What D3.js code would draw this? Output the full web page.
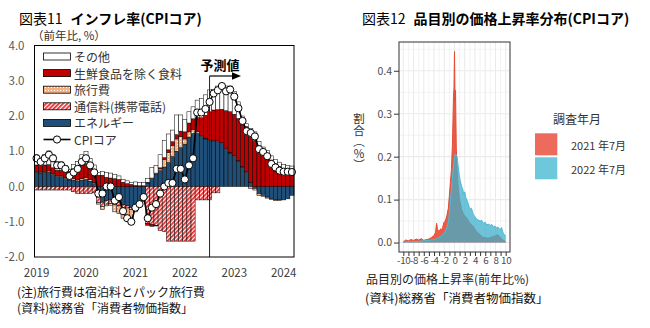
<!DOCTYPE html>
<html>
<head>
<meta charset="utf-8">
<script src="https://cdn.jsdelivr.net/npm/d3@7"></script>
<style>
  body { margin: 0; background: #fff; }
  svg { display: block; font-family: "Noto Sans CJK JP", "Noto Sans", sans-serif; }
</style>
</head>
<body>
<svg id="chart" width="650" height="328"></svg>
<script>
// ---------- 図表11: contributions to CPI core (y/y, %pt), Jan 2019 - Mar 2024 ----------
const yearTicks = ["2019", "2020", "2021", "2022", "2023", "2024"];
const yTicksLeft = [4, 3, 2, 1, 0, -1, -2];
const forecastStart = "2022-07";

const energy = [
  0.40, 0.38, 0.40, 0.40, 0.34, 0.28, 0.28, 0.22, 0.18, 0.18, 0.16, 0.18, 0.20, 0.15, 0.08,
  -0.30, -0.45, -0.40, -0.38, -0.42, -0.45, -0.52, -0.55, -0.60, -0.55, -0.45, -0.30,
  0.10, 0.22, 0.35, 0.45, 0.55, 0.68, 0.85, 1.00, 1.10, 1.20, 1.40, 1.50, 1.50, 1.42, 1.35, 1.30,
  1.28, 1.27, 1.22, 1.05, 0.95, 0.85, 0.72, 0.55, 0.40, 0.12, -0.05, -0.20, -0.25, -0.30, -0.35, -0.38, -0.38, -0.38, -0.35, -0.25
];
const comm = [
  -0.10, -0.10, -0.10, -0.10, -0.10, -0.10, -0.10, -0.10, -0.10,
  -0.15, -0.20, -0.20, -0.20, -0.20, -0.18,
  -0.15, -0.12, -0.10, -0.10, -0.10, -0.10, -0.08, -0.06, -0.05, -0.05, -0.05, -0.05,
  -1.05, -1.08, -1.10, -1.25, -1.28, -1.55, -1.55, -1.55, -1.55, -1.55, -1.55, -1.55,
  -0.38, -0.38, -0.38, -0.38, -0.18, -0.18,
  0, 0, 0, 0, 0, 0, 0, 0, 0, 0, 0, 0, 0, 0, 0, 0, 0, 0
];
const travel = [
  0.03, 0.03, 0.03, 0.04, 0.03, 0.03, 0.03, 0.03, 0.03, 0.04, 0.04, 0.04, 0.05, 0.04, 0.03,
  -0.05, -0.08, -0.05, -0.05, -0.20, -0.22, -0.30, -0.32, -0.32, -0.12, -0.10, -0.08,
  0.02, 0.02, 0.03, 0.05, 0.22, 0.28, 0.32, 0.35, 0.32, 0.15, 0.15, 0.12,
  0.05, 0.03, 0.02, 0.02, 0.02, 0.02, 0.02, 0.03, 0.02,
  0.02, 0.02, 0.02, 0.02, -0.05, -0.05, -0.06, -0.03, -0.03, -0.02, -0.02, -0.02, 0, 0, 0
];
const food = [
  0.18, 0.18, 0.18, 0.18, 0.16, 0.15, 0.15, 0.18, 0.22, 0.28, 0.33, 0.38, 0.40, 0.38, 0.35,
  0.32, 0.32, 0.26, 0.24, 0.22, 0.20, 0.12, 0.08, 0.06, 0.03, 0.02, 0.02,
  -0.05, -0.05, -0.02, 0.03, 0.05, 0.08, 0.10, 0.12, 0.15,
  0.20, 0.25, 0.30, 0.40, 0.50, 0.65, 0.80,
  0.87, 0.89, 0.95, 1.07, 1.15, 1.18, 1.19, 1.25, 1.28, 1.30, 1.30, 1.15, 1.00, 0.88, 0.75, 0.65, 0.57, 0.50, 0.47, 0.45
];
const other = [
  0.29, 0.21, 0.29, 0.39, 0.37, 0.24, 0.24, 0.17, 0.06, 0.12, 0.18, 0.30, 0.35, 0.22, 0.15,
  0.08, 0.10, 0.14, 0.14, 0.12, 0.10, 0.08, 0.08, 0.06, 0.10, 0.10, 0.10,
  0.10, 0.30, 0.22, 0.37, 0.48, 0.45, 0.33, 0.56, 0.46, 0.35, 0.32, 0.34, 0.50, 0.55, 0.58, 0.62,
  0.58, 0.67, 0.73, 0.70, 0.73, 0.65, 0.47, 0.18, 0.08, 0.23, 0.25, 0.12, 0.12, 0.14, 0.12, 0.12, 0.12, 0.12, 0.12, 0.13
];
const cpiCore = [
  0.8, 0.7, 0.8, 0.9, 0.8, 0.6, 0.6, 0.5, 0.3, 0.4, 0.5, 0.7,
  0.8, 0.6, 0.4, -0.2, -0.2, 0.0, 0.0, -0.4, -0.3, -0.7, -0.9, -1.0,
  -0.6, -0.5, -0.3, -0.9, -0.6, -0.5, -0.2, 0.0, 0.1, 0.1, 0.5, 0.5,
  0.2, 0.6, 0.8, 2.1, 2.1, 2.2, 2.4, 2.64, 2.73, 2.85, 2.7, 2.75,
  2.55, 2.22, 1.86, 1.57, 1.52, 1.42, 1.06, 0.98, 0.86, 0.64, 0.54, 0.45,
  0.42, 0.42, 0.41
];

const seriesKeys = ["energy", "comm", "travel", "food", "other"];
const seriesNames = {
  other: "その他", food: "生鮮食品を除く食料", travel: "旅行費",
  comm: "通信料(携帯電話)", energy: "エネルギー"
};
const legendOrder = ["other", "food", "travel", "comm", "energy"];
const lineName = "CPIコア";

// ---------- 図表12: distribution of item-level price changes ----------
const rate2021 = [-10, -9.5, -9, -8.5, -8, -7.5, -7, -6.5, -6, -5.5, -5, -4.5, -4, -3.7, -3.5, -3.3,
  -3, -2.7, -2.4, -2.1, -1.8, -1.5, -1.2, -1.0, -0.8, -0.6, -0.4, -0.2, -0.1, 0, 0.1, 0.2, 0.35,
  0.5, 0.75, 1.0, 1.4, 1.8, 2.4, 3.0, 3.5, 4.3, 5.0, 5.6, 6.2, 6.6, 7.0, 7.6, 8.0, 8.4, 8.8, 9.2, 9.6, 10];
const share2021 = [0.002, 0.006, 0.004, 0.007, 0.005, 0.008, 0.006, 0.009, 0.005, 0.007, 0.008, 0.012, 0.016,
  0.024, 0.045, 0.03, 0.026, 0.032, 0.03, 0.046, 0.05, 0.062, 0.08, 0.11, 0.14, 0.17, 0.23, 0.34, 0.36,
  0.445, 0.33, 0.355, 0.22, 0.17, 0.123, 0.1, 0.077, 0.065, 0.057, 0.045, 0.04, 0.026, 0.018, 0.012,
  0.011, 0.01, 0.012, 0.014, 0.016, 0.018, 0.014, 0.008, 0.005, 0.002];
const rate2022 = [-10, -9, -8, -7, -6, -5, -4, -3.5, -3, -2.5, -2.2, -1.8, -1.4, -1.1, -0.9, -0.7, -0.5,
  -0.3, -0.1, 0.1, 0.3, 0.5, 0.7, 0.9, 1.1, 1.4, 1.6, 1.8, 2.0, 2.2, 2.4, 2.7, 3.0, 3.3, 3.7, 4.0, 4.3,
  4.6, 5.0, 5.3, 5.6, 6.0, 6.3, 6.6, 7.0, 7.3, 7.6, 8.0, 8.2, 8.5, 8.9, 9.2, 9.5, 9.8, 10];
const share2022 = [0.001, 0.002, 0.002, 0.003, 0.004, 0.005, 0.007, 0.009, 0.012, 0.016, 0.019, 0.026,
  0.037, 0.055, 0.084, 0.11, 0.139, 0.165, 0.19, 0.205, 0.205, 0.2, 0.18, 0.16, 0.145, 0.13, 0.125,
  0.112, 0.118, 0.105, 0.1, 0.09, 0.077, 0.08, 0.065, 0.06, 0.055, 0.053, 0.05, 0.052, 0.045, 0.047,
  0.041, 0.043, 0.04, 0.042, 0.037, 0.038, 0.034, 0.036, 0.03, 0.035, 0.022, 0.018, 0.014];
const surveyLabels = ["2021 年7月", "2022 年7月"];
const xTicksRight = [-10, -8, -6, -4, -2, 0, 2, 4, 6, 8, 10];
const yTicksRight = [0, 0.1, 0.2, 0.3, 0.4];

const svg = d3.select("#chart");
const defs = svg.append("defs");

// dotted fill for travel, diagonal hatch for mobile charges
const dots = defs.append("pattern").attr("id", "dots")
  .attr("width", 3).attr("height", 3).attr("patternUnits", "userSpaceOnUse");
dots.append("rect").attr("width", 3).attr("height", 3).attr("fill", "#F4B183");
dots.append("rect").attr("width", 1).attr("height", 1).attr("fill", "#fff");
const hatch = defs.append("pattern").attr("id", "hatch")
  .attr("width", 3).attr("height", 3).attr("patternUnits", "userSpaceOnUse")
  .attr("patternTransform", "rotate(45)");
hatch.append("rect").attr("width", 3).attr("height", 3).attr("fill", "#fff");
hatch.append("rect").attr("width", 1.8).attr("height", 3).attr("fill", "#E83030");

const fills = {
  energy: "#1F4E79", comm: "url(#hatch)", travel: "url(#dots)", food: "#C00000", other: "#FFFFFF"
};
const fmtTick = d => d.toFixed(1);

// ===== left chart =====
const L = { left: 34.5, right: 294, top: 45.5, bottom: 257 };
const months = d3.timeMonth.range(new Date(2019, 0, 1), new Date(2024, 3, 1)).map(d3.timeFormat("%Y-%m"));
const x = d3.scaleBand().domain(months).range([L.left, L.right]).padding(0);
const y = d3.scaleLinear().domain([-2, 4]).range([L.bottom, L.top]);

svg.append("text").attr("x", 19).attr("y", 23.5).attr("font-size", 14).attr("fill", "#000")
  .call(t => {
    t.append("tspan").text("図表11");
    t.append("tspan").attr("dx", 8).attr("font-weight", "bold").text("インフレ率(CPIコア)");
  });
svg.append("text").attr("x", 32).attr("y", 40).attr("font-size", 11.5).attr("fill", "#333")
  .text("（前年比, %）");

const rows = months.map((m, i) => ({
  month: m, energy: energy[i], comm: comm[i], travel: travel[i], food: food[i], other: other[i]
}));
const stacked = d3.stack().keys(seriesKeys).offset(d3.stackOffsetDiverging)(rows);

const gBars = svg.append("g");
stacked.forEach(s => {
  gBars.append("g").attr("fill", fills[s.key])
    .selectAll("rect").data(s).join("rect")
    .attr("x", d => x(d.data.month))
    .attr("width", x.bandwidth())
    .attr("y", d => y(Math.max(d[0], d[1])))
    .attr("height", d => Math.abs(y(d[0]) - y(d[1])))
    .attr("stroke", "#000").attr("stroke-width", 0.5);
});

// forecast marker
const fx = x(forecastStart) + x.bandwidth() / 2;
svg.append("line").attr("x1", fx).attr("x2", fx).attr("y1", 76).attr("y2", L.bottom)
  .attr("stroke", "#222").attr("stroke-width", 1);
svg.append("line").attr("x1", fx).attr("x2", 233).attr("y1", 76).attr("y2", 76)
  .attr("stroke", "#000").attr("stroke-width", 1.2);
svg.append("path").attr("d", "M232,72.2L241,76L232,79.8Z").attr("fill", "#000");
svg.append("text").attr("x", 220).attr("y", 70).attr("text-anchor", "middle")
  .attr("font-size", 13).attr("font-weight", "bold").attr("fill", "#000").text("予測値");

// CPI core line
const lineGen = d3.line().x((d, i) => x(months[i]) + x.bandwidth() / 2).y(d => y(d));
svg.append("path").datum(cpiCore).attr("d", lineGen)
  .attr("fill", "none").attr("stroke", "#000").attr("stroke-width", 1.6);
svg.append("g").selectAll("circle").data(cpiCore).join("circle")
  .attr("cx", (d, i) => x(months[i]) + x.bandwidth() / 2)
  .attr("cy", d => y(d)).attr("r", 3.6)
  .attr("fill", "#fff").attr("stroke", "#000").attr("stroke-width", 1);

// frame
svg.append("rect").attr("x", L.left).attr("y", L.top)
  .attr("width", L.right - L.left).attr("height", L.bottom - L.top)
  .attr("fill", "none").attr("stroke", "#000").attr("stroke-width", 1);

// axes
const yAxisL = svg.append("g").attr("transform", `translate(${L.left},0)`)
  .call(d3.axisLeft(y).tickValues(yTicksLeft).tickFormat(fmtTick).tickSize(0).tickPadding(10));
yAxisL.select(".domain").remove();
yAxisL.selectAll("text").attr("font-size", 11.5).attr("fill", "#595959")
  .attr("font-family", "'Noto Sans CJK JP', sans-serif");

const xAxisL = svg.append("g").attr("transform", `translate(0,${L.bottom})`)
  .call(d3.axisBottom(x).tickValues(yearTicks.map(yr => yr + "-01"))
    .tickFormat(d => d.slice(0, 4)).tickSize(0).tickPadding(12));
xAxisL.select(".domain").remove();
xAxisL.selectAll("text").attr("font-size", 11.5).attr("fill", "#404040")
  .attr("font-family", "'Noto Sans CJK JP', sans-serif");

// legend
const legend = svg.append("g");
const legY0 = 56.5, legStep = 16.6;
legendOrder.forEach((k, i) => {
  const cy = legY0 + i * legStep;
  legend.append("rect").attr("x", 43.5).attr("y", cy - 3.5).attr("width", 27).attr("height", 7)
    .attr("fill", fills[k]).attr("stroke", "#000").attr("stroke-width", 0.8);
  legend.append("text").attr("x", 74).attr("y", cy).attr("dominant-baseline", "central")
    .attr("font-size", 12).attr("fill", "#333").text(seriesNames[k]);
});
{
  const cy = legY0 + 5 * legStep;
  legend.append("line").attr("x1", 43.5).attr("x2", 70.5).attr("y1", cy).attr("y2", cy)
    .attr("stroke", "#000").attr("stroke-width", 1.6);
  legend.append("circle").attr("cx", 57).attr("cy", cy).attr("r", 3.6)
    .attr("fill", "#fff").attr("stroke", "#000").attr("stroke-width", 1);
  legend.append("text").attr("x", 74).attr("y", cy).attr("dominant-baseline", "central")
    .attr("font-size", 12).attr("fill", "#333").text(lineName);
}

// notes
svg.append("text").attr("x", 17).attr("y", 297).attr("font-size", 12).attr("fill", "#111")
  .text("(注)旅行費は宿泊料とパック旅行費");
svg.append("text").attr("x", 17).attr("y", 313).attr("font-size", 12).attr("fill", "#111")
  .text("(資料)総務省「消費者物価指数」");

// ===== right chart =====
const R = { left: 399, right: 510, top: 42, bottom: 252 };
const xR = d3.scaleLinear().domain([-10.84, 10.84]).range([R.left, R.right]);
const yR = d3.scaleLinear().domain([-0.022, 0.467]).range([R.bottom, R.top]);

svg.append("text").attr("x", 362).attr("y", 23.5).attr("font-size", 14).attr("fill", "#000")
  .call(t => {
    t.append("tspan").text("図表12");
    t.append("tspan").attr("dx", 8).attr("font-weight", "bold").text("品目別の価格上昇率分布(CPIコア)");
  });

const grid = svg.append("g");
d3.range(-10, 10.5, 1).forEach(v => {
  grid.append("line").attr("x1", xR(v)).attr("x2", xR(v)).attr("y1", R.top).attr("y2", R.bottom)
    .attr("stroke", "#EBEBEB").attr("stroke-width", v % 2 === 0 ? 1.1 : 0.6);
});
d3.range(0, 0.451, 0.05).forEach((v, i) => {
  grid.append("line").attr("x1", R.left).attr("x2", R.right).attr("y1", yR(v)).attr("y2", yR(v))
    .attr("stroke", "#EBEBEB").attr("stroke-width", i % 2 === 0 ? 1.1 : 0.6);
});

const area = d3.area().x(d => xR(d[0])).y0(yR(0)).y1(d => yR(d[1]));
const line = d3.line().x(d => xR(d[0])).y(d => yR(d[1]));
const pts2021 = rate2021.map((r, i) => [r, share2021[i]]);
const pts2022 = rate2022.map((r, i) => [r, share2022[i]]);

svg.append("path").datum(pts2021).attr("d", area).attr("fill", "#E64B35").attr("fill-opacity", 0.9);
svg.append("path").datum(pts2021).attr("d", line).attr("fill", "none").attr("stroke", "#E64B35").attr("stroke-width", 1);
svg.append("path").datum(pts2022).attr("d", area).attr("fill", "#3DAFCB").attr("fill-opacity", 0.75);
svg.append("path").datum(pts2022).attr("d", line).attr("fill", "none").attr("stroke", "#4DBBD5").attr("stroke-width", 1);

svg.append("rect").attr("x", R.left).attr("y", R.top).attr("width", R.right - R.left)
  .attr("height", R.bottom - R.top).attr("fill", "none").attr("stroke", "#444").attr("stroke-width", 1.1);

const yAxisR = svg.append("g").attr("transform", `translate(${R.left},0)`)
  .call(d3.axisLeft(yR).tickValues(yTicksRight).tickFormat(fmtTick).tickSize(5).tickPadding(2));
yAxisR.select(".domain").remove();
yAxisR.selectAll("line").attr("stroke", "#333");
yAxisR.selectAll("text").attr("font-size", 10.5).attr("fill", "#4D4D4D")
  .attr("font-family", "'Noto Sans CJK JP', sans-serif");

const xAxisR = svg.append("g").attr("transform", `translate(0,${R.bottom})`)
  .call(d3.axisBottom(xR).tickValues(d3.range(-10, 10.5, 1))
    .tickFormat(d => xTicksRight.includes(d) ? String(d) : "").tickSize(4).tickPadding(1.5));
xAxisR.select(".domain").remove();
xAxisR.selectAll("line").attr("stroke", "#333");
xAxisR.selectAll("text").attr("font-size", 9.8).attr("letter-spacing", -0.3).attr("fill", "#4D4D4D")
  .attr("font-family", "'Noto Sans CJK JP', sans-serif");

svg.append("text").attr("transform", "translate(359,142)")
  .attr("writing-mode", "vertical-rl").attr("text-anchor", "middle")
  .attr("font-size", 11.5).attr("fill", "#333").text("割合（％）");

svg.append("text").attr("x", 366).attr("y", 284).attr("font-size", 12).attr("fill", "#222")
  .text("品目別の価格上昇率(前年比%)");
svg.append("text").attr("x", 365).attr("y", 303).attr("font-size", 12.5).attr("fill", "#111")
  .text("(資料)総務省「消費者物価指数」");

// legend
const legR = svg.append("g");
legR.append("text").attr("x", 577).attr("y", 124).attr("text-anchor", "middle")
  .attr("font-size", 12).attr("fill", "#333").text("調査年月");
const keyFills = ["#EC6B5C", "#6EC8DC"];
surveyLabels.forEach((lab, i) => {
  const top = 133.3 + i * 24;
  legR.append("rect").attr("x", 535).attr("y", top).attr("width", 22.3).attr("height", 22)
    .attr("fill", keyFills[i]);
  legR.append("text").attr("x", 571).attr("y", top + 11.5).attr("dominant-baseline", "central")
    .attr("font-size", 11).attr("fill", "#333").text(lab);
});
</script>
</body>
</html>
